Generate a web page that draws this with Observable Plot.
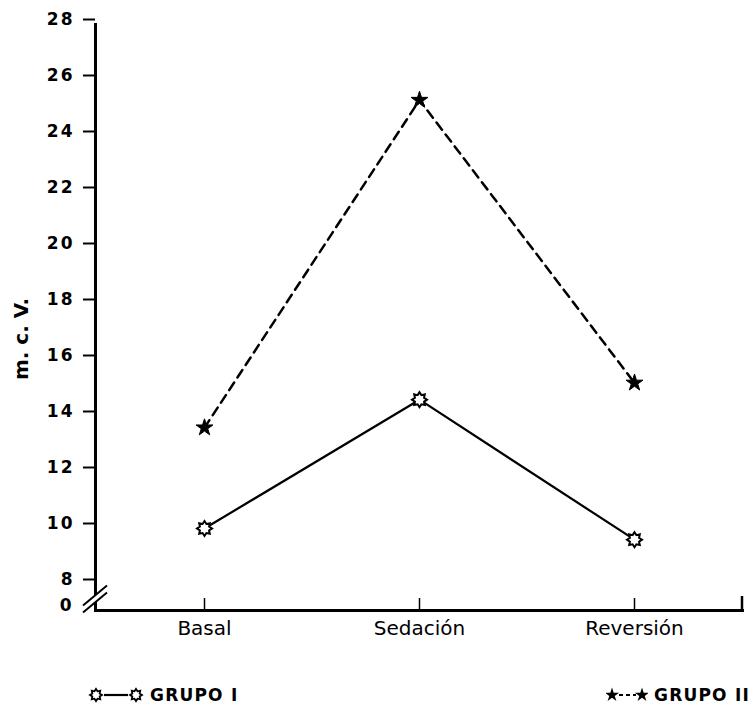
<!DOCTYPE html>
<html><head><meta charset="utf-8">
<script src="https://cdn.jsdelivr.net/npm/d3@7"></script>
<script src="https://cdn.jsdelivr.net/npm/@observablehq/plot@0.6"></script>
<style>
body{margin:0;background:#fff;font-family:"DejaVu Sans",sans-serif;color:#000;}
#chart svg{display:block;}
#chart g[aria-label="y-axis tick label"] text{letter-spacing:2px;}
#legend{position:relative;height:48px;font-family:"DejaVu Sans",sans-serif;font-weight:bold;font-size:17px;}
.leg{position:absolute;top:25px;display:flex;align-items:center;gap:6px;letter-spacing:1.2px;white-space:nowrap;}
</style></head><body><div id="chart"></div><div id="legend"></div>
<script>
const phases = ["Basal", "Sedación", "Reversión"];
const grupo1 = [10.0, 14.6, 9.6];
const grupo2 = [13.6, 25.3, 15.2];
const yTicks = [8, 10, 12, 14, 16, 18, 20, 22, 24, 26, 28];
const zeroTick = [0];
const seriesNames = ["GRUPO I", "GRUPO II"];
const yLabel = "m. c. V.";
const yLabelAt = 15.3;

const rows1 = phases.map((f, i) => ({fase: f, valor: grupo1[i], grupo: seriesNames[0]}));
const rows2 = phases.map((f, i) => ({fase: f, valor: grupo2[i], grupo: seriesNames[1]}));

// hollow 8-point "sun" symbol
const sun = {
  draw(ctx, size) {
    const R = Math.sqrt(size / Math.PI);
    const r = R * 0.66, n = 8;
    for (let i = 0; i < 2 * n; i++) {
      const a = (i * Math.PI) / n - Math.PI / 2;
      const rr = i % 2 === 0 ? R : r;
      const px = rr * Math.cos(a), py = rr * Math.sin(a);
      if (i === 0) ctx.moveTo(px, py); else ctx.lineTo(px, py);
    }
    ctx.closePath();
  }
};

function extras(index, scales, values, dims) {
  const g = d3.create("svg:g");
  const x0 = dims.marginLeft;
  const yb = dims.height - dims.marginBottom;
  const yc = (scales.y(0) + scales.y(8)) / 2 + 2;
  const dx = 12, dy = 10, gap = 3.5;
  g.append("path")
    .attr("d", `M${x0 - dx},${yc + dy - gap}L${x0 + dx},${yc - dy - gap}L${x0 + dx},${yc - dy + gap}L${x0 - dx},${yc + dy + gap}Z`)
    .attr("fill", "white");
  for (const s of [-gap, gap]) {
    g.append("line")
      .attr("x1", x0 - dx).attr("y1", yc + dy + s)
      .attr("x2", x0 + dx).attr("y2", yc - dy + s)
      .attr("stroke", "black").attr("stroke-width", 2);
  }
  const xr = dims.width - dims.marginRight;
  g.append("line").attr("x1", xr).attr("x2", xr).attr("y1", yb).attr("y2", yb - 14)
    .attr("stroke", "black").attr("stroke-width", 2.5);
  return g.node();
}

const chart = Plot.plot({
  width: 756,
  height: 660,
  marginLeft: 95,
  marginRight: 14,
  marginTop: 24,
  marginBottom: 50,
  style: {fontFamily: "DejaVu Sans, sans-serif", background: "white", color: "black"},
  x: {type: "point", domain: phases, padding: 0.5, axis: null},
  y: {type: "linear", domain: [0, 8, 28], range: [610, 584, 24], axis: null},
  marks: [
    Plot.frame({anchor: "left", strokeWidth: 3}),
    Plot.frame({anchor: "bottom", strokeWidth: 3}),
    Plot.axisY(yTicks, {tickSize: 12, tickPadding: 9, fontSize: 17, fontWeight: "bold", dy: -5, strokeWidth: 2, label: null}),
    Plot.axisY(zeroTick, {tickSize: 0, tickPadding: 22, fontSize: 17, fontWeight: "bold", dy: -5, label: null}),
    Plot.axisX(phases, {tickSize: -12, tickPadding: 22, fontSize: 20, strokeWidth: 1.5, label: null}),
    extras,
    Plot.text([yLabel], {text: d => d, y: [yLabelAt], frameAnchor: "left", dx: -74, rotate: -90, fontSize: 20, fontWeight: "bold"}),
    Plot.line(rows1, {x: "fase", y: "valor", stroke: "black", strokeWidth: 2.2}),
    Plot.line(rows2, {x: "fase", y: "valor", stroke: "black", strokeWidth: 2.5, strokeDasharray: "9,6"}),
    Plot.dot(rows1, {x: "fase", y: "valor", symbol: sun, r: 7.5, fill: "white", stroke: "black", strokeWidth: 2}),
    Plot.dot(rows2, {x: "fase", y: "valor", symbol: "star", r: 5.3, fill: "black", stroke: "black", strokeWidth: 1})
  ]
});
document.getElementById("chart").append(chart);

// legend
function sunSVG() {
  const p = d3.path(); sun.draw(p, 36 * Math.PI);
  return `<path d="${p}" fill="white" stroke="black" stroke-width="1.8"/>`;
}
function starSVG() {
  const p = d3.path(); d3.symbolStar.draw(p, 20 * Math.PI);
  return `<path d="${p}" fill="black"/>`;
}
const leg = document.getElementById("legend");
leg.innerHTML = `
<div class="leg" style="left:88px">
  <svg width="56" height="16" viewBox="-8 -8 56 16">${sunSVG()}<line x1="8" x2="32" y1="0" y2="0" stroke="black" stroke-width="2.2"/><g transform="translate(40,0)">${sunSVG()}</g></svg>
  <span>${seriesNames[0]}</span></div>
<div class="leg" style="left:606px">
  <svg width="42" height="16" viewBox="-6 -8 42 16">${starSVG()}<line x1="7" x2="24" y1="0" y2="0" stroke="black" stroke-width="2" stroke-dasharray="4,3"/><g transform="translate(30,0)">${starSVG()}</g></svg>
  <span>${seriesNames[1]}</span></div>`;
</script></body></html>
